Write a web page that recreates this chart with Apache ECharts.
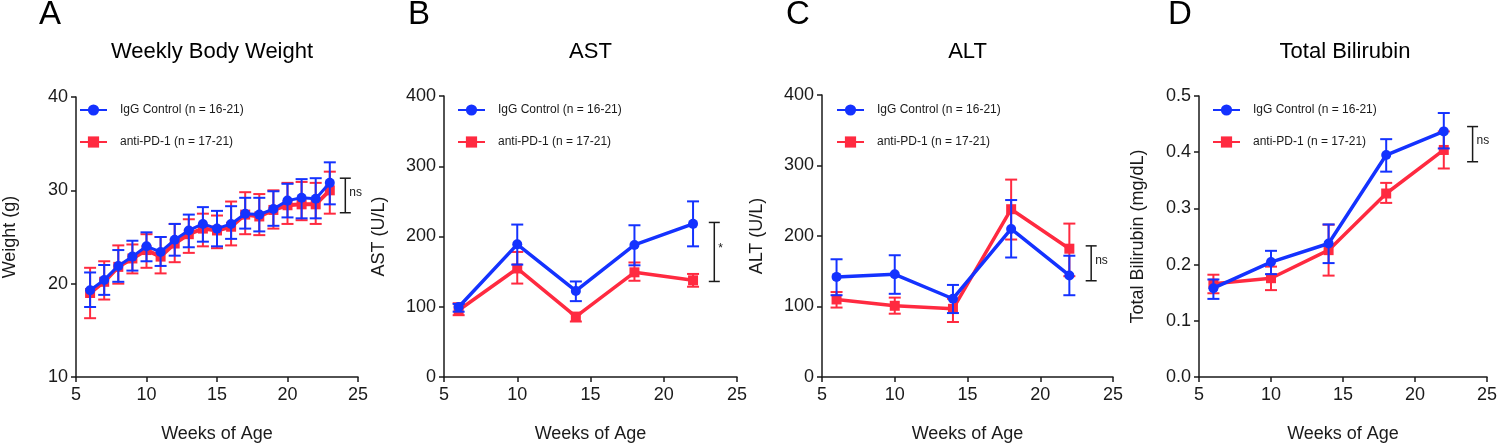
<!DOCTYPE html>
<html>
<head>
<meta charset="utf-8">
<script src="https://cdn.jsdelivr.net/npm/echarts@6/dist/echarts.min.js"></script>
<style>
  html, body { margin: 0; padding: 0; background: #fff; }
  #chart { width: 1500px; height: 448px; }
</style>
</head>
<body>
<div id="chart"></div>
<script>
// A - weekly body weight
const weeksA = [6, 7, 8, 9, 10, 11, 12, 13, 14, 15, 16, 17, 18, 19, 20, 21, 22, 23]
const weightIgG = [19.3, 20.4, 21.9, 22.9, 24.0, 23.4, 24.7, 25.7, 26.4, 25.9, 26.4, 27.5, 27.4, 28.0, 28.9, 29.2, 29.1, 30.8]
const weightIgGLow = [17.5, 18.8, 20.2, 21.4, 22.4, 21.9, 23.0, 23.9, 24.5, 24.0, 24.8, 25.9, 25.6, 26.2, 27.1, 27.0, 27.0, 28.5]
const weightIgGHigh = [21.2, 22.0, 23.6, 24.6, 25.5, 25.0, 26.4, 27.4, 28.2, 27.8, 28.3, 29.2, 29.2, 29.9, 30.7, 31.2, 31.3, 33.0]
const weightPD1 = [19.0, 20.2, 21.8, 22.7, 23.6, 22.9, 24.3, 25.3, 25.9, 25.7, 26.1, 27.4, 27.2, 27.9, 28.4, 28.5, 28.5, 30.0]
const weightPD1Low = [16.3, 18.3, 20.0, 21.1, 21.7, 21.1, 22.3, 23.3, 24.0, 23.8, 24.1, 25.3, 25.2, 25.9, 26.4, 26.8, 26.4, 27.5]
const weightPD1High = [21.7, 22.4, 24.1, 24.2, 25.3, 25.0, 26.4, 26.9, 27.5, 27.3, 28.8, 29.8, 29.6, 30.0, 30.8, 30.9, 30.8, 32.0]

// B, C, D - serum chemistry
const weeks = [6, 10, 14, 18, 22]
const astIgG = [99.7, 188.8, 122.5, 188, 218]
const astIgGLow = [93, 160, 108, 159, 186]
const astIgGHigh = [104, 217, 136, 216, 250]
const astPD1 = [95, 154.5, 86, 149, 137.6]
const astPD1Low = [88, 133, 79, 137, 128.5]
const astPD1High = [105, 178, 90.5, 163, 146.7]

const altIgG = [142, 145.7, 111, 210, 144]
const altIgGLow = [116, 118, 90.7, 169.5, 116]
const altIgGHigh = [167, 172.7, 130.6, 251, 172]
const altPD1 = [110, 101, 96.7, 238, 182]
const altPD1Low = [98.5, 89.8, 78, 195, 143]
const altPD1High = [120.5, 112.6, 111, 280, 217.6]

const biliIgG = [0.158, 0.2045, 0.2376, 0.395, 0.437]
const biliIgGLow = [0.139, 0.183, 0.2027, 0.3654, 0.4067]
const biliIgGHigh = [0.1735, 0.2245, 0.2715, 0.4232, 0.4697]
const biliPD1 = [0.166, 0.1758, 0.2257, 0.3265, 0.404]
const biliPD1Low = [0.149, 0.1546, 0.1804, 0.3098, 0.371]
const biliPD1High = [0.182, 0.1964, 0.271, 0.3454, 0.437]

// significance brackets (one per panel)
const bracketX = [24.1, 23.45, 23.5, 24.0]
const bracketLow = [27.6, 136, 136.5, 0.383]
const bracketHigh = [31.3, 220, 186, 0.4456]
const bracketText = ['ns', '*', 'ns', 'ns']

const panelLetters = ['A', 'B', 'C', 'D']
const panelTitles = ['Weekly Body Weight', 'AST', 'ALT', 'Total Bilirubin']
const yNames = ['Weight (g)', 'AST (U/L)', 'ALT (U/L)', 'Total Bilirubin (mg/dL)']
const yMin = [10, 0, 0, 0]
const yMax = [40, 400, 400, 0.5]
const yStep = [10, 100, 100, 0.1]

const nameIgG = 'IgG Control (n = 16-21)'
const namePD1 = 'anti-PD-1 (n = 17-21)'

const FONT = 'Liberation Sans, Arial, Helvetica, sans-serif'
const BLUE = '#1432ff'
const RED = '#ff2a40'
const INK = '#1a1a1a'

const grids = [
    { left: 66, top: 97, width: 292, height: 292 },
    { left: 444, top: 96, width: 293, height: 292 },
    { left: 822, top: 95, width: 291, height: 291 },
    { left: 1199, top: 96, width: 292, height: 291 },
]
const letterPos = [[50, 15], [419, 15], [798, 15], [1180, 15]]
const yNameGap = [57, 56, 56, 52]

function zip3(xs, a, b) {
    return xs.map((x, i) => [x, a[i], b[i]])
}

// vertical error bar with caps
function errorBar(color, width, hw) {
    return function (params, api) {
        const x = api.value(0)
        const lo = api.coord([x, api.value(1)])
        const hi = api.coord([x, api.value(2)])
        const style = { stroke: color, lineWidth: width }
        return {
            type: 'group',
            children: [
                { type: 'line', shape: { x1: lo[0], y1: lo[1], x2: hi[0], y2: hi[1] }, style },
                { type: 'line', shape: { x1: lo[0] - hw, y1: lo[1], x2: lo[0] + hw, y2: lo[1] }, style },
                { type: 'line', shape: { x1: hi[0] - hw, y1: hi[1], x2: hi[0] + hw, y2: hi[1] }, style },
            ],
        }
    }
}

// bracket + significance label; value(3) is the panel index
function bracketItem(params, api) {
    const x = api.value(0)
    const lo = api.coord([x, api.value(1)])
    const hi = api.coord([x, api.value(2)])
    const style = { stroke: INK, lineWidth: 1.5 }
    const hw = 5.5
    return {
        type: 'group',
        children: [
            { type: 'line', shape: { x1: lo[0], y1: lo[1], x2: hi[0], y2: hi[1] }, style },
            { type: 'line', shape: { x1: lo[0] - hw, y1: lo[1], x2: lo[0] + hw, y2: lo[1] }, style },
            { type: 'line', shape: { x1: hi[0] - hw, y1: hi[1], x2: hi[0] + hw, y2: hi[1] }, style },
            {
                type: 'text',
                style: {
                    x: hi[0] + 4,
                    y: (lo[1] + hi[1]) / 2 - 3,
                    text: bracketText[api.value(3)],
                    font: '12px ' + FONT,
                    fill: INK,
                    textVerticalAlign: 'middle',
                },
            },
        ],
    }
}

const panels = [
    { x: weeksA, igg: [weightIgG, weightIgGLow, weightIgGHigh], pd1: [weightPD1, weightPD1Low, weightPD1High] },
    { x: weeks, igg: [astIgG, astIgGLow, astIgGHigh], pd1: [astPD1, astPD1Low, astPD1High] },
    { x: weeks, igg: [altIgG, altIgGLow, altIgGHigh], pd1: [altPD1, altPD1Low, altPD1High] },
    { x: weeks, igg: [biliIgG, biliIgGLow, biliIgGHigh], pd1: [biliPD1, biliPD1Low, biliPD1High] },
]

const axisLine = { show: true, lineStyle: { color: INK, width: 1.5 } }
const axisTick = { show: true, length: 5, inside: false, lineStyle: { color: INK, width: 1.5 } }

const xAxis = grids.map((g, i) => ({
    type: 'value',
    gridIndex: i,
    min: 5,
    max: 25,
    interval: 5,
    name: 'Weeks of Age',
    nameLocation: 'middle',
    nameGap: 48,
    nameTextStyle: { fontSize: 18, color: INK, fontFamily: FONT },
    axisLine,
    axisTick,
    splitLine: { show: false },
    axisLabel: { fontSize: 18, color: INK, fontFamily: FONT, margin: 9 },
}))

const yAxis = grids.map((g, i) => ({
    type: 'value',
    gridIndex: i,
    min: yMin[i],
    max: yMax[i],
    interval: yStep[i],
    name: yNames[i],
    nameLocation: 'middle',
    nameGap: yNameGap[i],
    nameTextStyle: { fontSize: 18, color: INK, fontFamily: FONT },
    axisLine,
    axisTick,
    splitLine: { show: false },
    axisLabel: {
        fontSize: 18,
        color: INK,
        fontFamily: FONT,
        margin: 8,
        formatter: i === 3 ? (v) => v.toFixed(1) : (v) => String(v),
    },
}))

const series = []
panels.forEach((p, i) => {
    const lineW = i === 0 ? 3 : 3.5
    series.push({
        type: 'custom',
        xAxisIndex: i,
        yAxisIndex: i,
        renderItem: errorBar(RED, 2, 6),
        encode: { x: 0, y: [1, 2] },
        data: zip3(p.x, p.pd1[1], p.pd1[2]),
        z: 2,
        silent: true,
    })
    series.push({
        type: 'line',
        name: namePD1,
        xAxisIndex: i,
        yAxisIndex: i,
        data: p.x.map((x, k) => [x, p.pd1[0][k]]),
        symbol: 'rect',
        symbolSize: 10,
        color: RED,
        lineStyle: { width: i === 0 ? 4 : lineW, color: RED },
        itemStyle: { color: RED },
        z: 3,
    })
    series.push({
        type: 'custom',
        xAxisIndex: i,
        yAxisIndex: i,
        renderItem: errorBar(BLUE, 2, 6),
        encode: { x: 0, y: [1, 2] },
        data: zip3(p.x, p.igg[1], p.igg[2]),
        z: 4,
        silent: true,
    })
    series.push({
        type: 'line',
        name: nameIgG,
        xAxisIndex: i,
        yAxisIndex: i,
        data: p.x.map((x, k) => [x, p.igg[0][k]]),
        symbol: 'circle',
        symbolSize: 10,
        color: BLUE,
        lineStyle: { width: lineW, color: BLUE },
        itemStyle: { color: BLUE },
        z: 5,
    })
    series.push({
        type: 'custom',
        xAxisIndex: i,
        yAxisIndex: i,
        renderItem: bracketItem,
        encode: { x: 0, y: [1, 2] },
        data: [[bracketX[i], bracketLow[i], bracketHigh[i], i]],
        z: 6,
        silent: true,
    })
})

const legendLeft = [74, 452, 831, 1207]
const legend = legendLeft.map((l) => ({
    left: l,
    top: 99,
    orient: 'vertical',
    itemWidth: 27,
    itemHeight: 14,
    itemGap: 20,
    selectedMode: false,
    data: [nameIgG, namePD1],
    textStyle: { fontSize: 12, color: INK, fontFamily: FONT, padding: [0, 0, 0, 8] },
}))

const graphic = []
panelLetters.forEach((t, i) => {
    graphic.push({
        type: 'text',
        x: letterPos[i][0],
        y: letterPos[i][1],
        style: { text: t, font: '33px ' + FONT, fill: '#000', textAlign: 'center', textVerticalAlign: 'middle' },
    })
    graphic.push({
        type: 'text',
        x: grids[i].left + grids[i].width / 2,
        y: 52,
        style: { text: panelTitles[i], font: '22px ' + FONT, fill: '#000', textAlign: 'center', textVerticalAlign: 'middle' },
    })
})

const chart = echarts.init(document.getElementById('chart'))
chart.setOption({
    animation: false,
    backgroundColor: '#fff',
    grid: grids,
    xAxis,
    yAxis,
    legend,
    graphic,
    series,
})
</script>
</body>
</html>
